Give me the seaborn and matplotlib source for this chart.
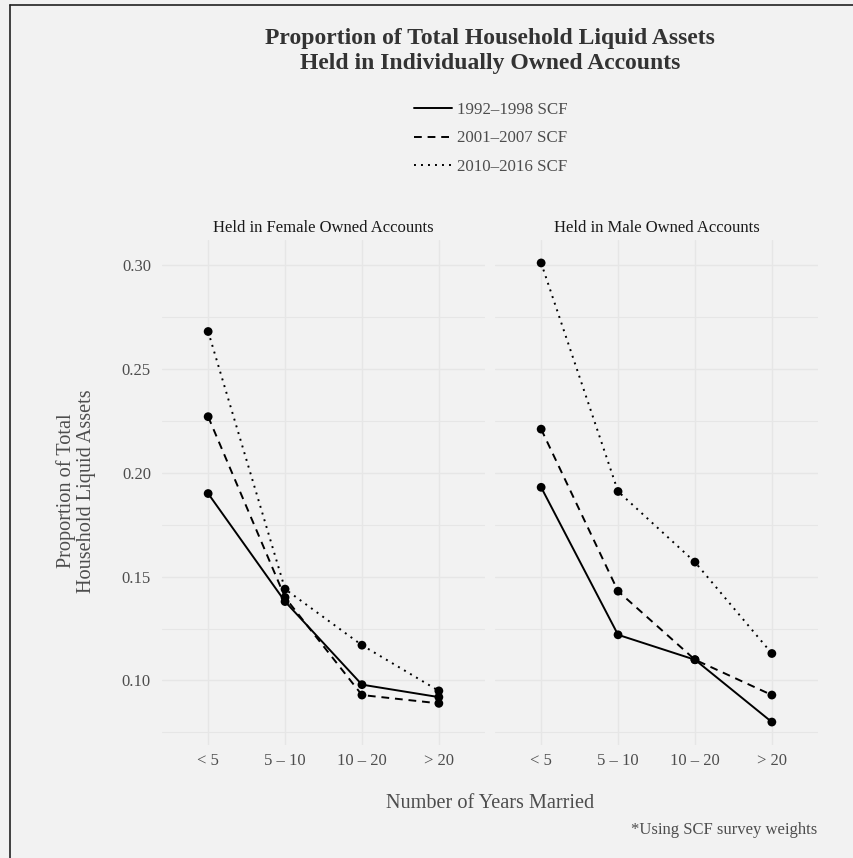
import numpy as np
import pandas as pd
import seaborn as sns
import matplotlib.pyplot as plt
from matplotlib.lines import Line2D
from matplotlib.ticker import MultipleLocator

# Values
years = ["< 5", "5 – 10", "10 – 20", "> 20"]
periods = ["1992–1998 SCF", "2001–2007 SCF", "2010–2016 SCF"]
panels = ["Held in Female Owned Accounts", "Held in Male Owned Accounts"]

female_1992 = [0.190, 0.138, 0.098, 0.092]
female_2001 = [0.227, 0.140, 0.093, 0.089]
female_2010 = [0.268, 0.144, 0.117, 0.095]
male_1992 = [0.193, 0.122, 0.110, 0.080]
male_2001 = [0.221, 0.143, 0.110, 0.093]
male_2010 = [0.301, 0.191, 0.157, 0.113]

series = {
    (panels[0], periods[0]): female_1992,
    (panels[0], periods[1]): female_2001,
    (panels[0], periods[2]): female_2010,
    (panels[1], periods[0]): male_1992,
    (panels[1], periods[1]): male_2001,
    (panels[1], periods[2]): male_2010,
}

rows = []
for (panel, period), vals in series.items():
    for i, v in enumerate(vals):
        rows.append({"panel": panel, "period": period, "pos": i, "share": v})
df = pd.DataFrame(rows)

sns.set_theme(style="white")
plt.rcParams["font.family"] = ["Liberation Serif", "DejaVu Serif"]

bg = "#f2f2f2"
grid_col = "#e6e6e6"
dash_map = {periods[0]: "", periods[1]: (4, 3), periods[2]: (1, 2.6)}

fig = plt.figure(figsize=(8.54, 8.58), dpi=100, facecolor=bg)

lo, hi = df["share"].min(), df["share"].max()
pad = (hi - lo) * 0.05

lefts = [162 / 854, 495 / 854]
for k, panel in enumerate(panels):
    ax = fig.add_axes([lefts[k], 1 - 745 / 858, 323 / 854, 505 / 858])
    ax.set_facecolor(bg)
    sub = df[df["panel"] == panel]
    sns.lineplot(data=sub, x="pos", y="share", hue="period", style="period",
                 palette=["black"] * 3, dashes=dash_map, markers=False,
                 linewidth=1.4, legend=False, ax=ax)
    sns.scatterplot(data=sub, x="pos", y="share", color="black", s=40,
                    edgecolor="none", legend=False, ax=ax, zorder=3)
    ax.set_xlim(-0.6, len(years) - 0.4)
    ax.set_ylim(lo - pad, hi + pad)
    ax.set_xticks(range(len(years)))
    ax.set_xticklabels(years)
    ax.yaxis.set_major_locator(MultipleLocator(0.05))
    ax.yaxis.set_minor_locator(MultipleLocator(0.025))
    ax.grid(True, which="major", color=grid_col, linewidth=1.0)
    ax.grid(True, which="minor", axis="y", color=grid_col, linewidth=0.8)
    ax.set_axisbelow(True)
    for s in ax.spines.values():
        s.set_visible(False)
    ax.tick_params(axis="both", which="both", length=0, labelsize=12,
                   labelcolor="#4d4d4d", pad=6)
    ax.tick_params(axis="y", pad=8)
    ax.set_xlabel("")
    ax.set_ylabel("")
    ax.set_title(panel, fontsize=12, color="#1a1a1a", pad=6)
    if k == 1:
        ax.tick_params(axis="y", labelleft=False)
    else:
        ax.yaxis.set_major_formatter(plt.FuncFormatter(lambda v, p: f"{v:.2f}"))

fig.text(490 / 854, 1 - 51 / 858,
         "Proportion of Total Household Liquid Assets\nHeld in Individually Owned Accounts",
         ha="center", va="center", fontsize=17, fontweight="bold",
         color="#333333", linespacing=1.19)

handles = [Line2D([0], [0], color="black", linewidth=1.4, linestyle=ls)
           for ls in ["-", (0, (4, 3)), (0, (1, 2.6))]]
fig.legend(handles, periods, loc="upper center", bbox_to_anchor=(491 / 854, 1 - 87 / 858),
           frameon=False, fontsize=12.2, handlelength=2.25, handletextpad=0.3,
           labelspacing=0.72, labelcolor="#4d4d4d")

fig.text(76 / 854, 1 - 491 / 858, "Proportion of Total\nHousehold Liquid Assets",
         rotation=90, ha="center", va="center", fontsize=14.6, color="#4d4d4d",
         linespacing=1.12)
fig.text(490 / 854, 1 - 804 / 858, "Number of Years Married", ha="center",
         va="center", fontsize=14.6, color="#4d4d4d")
fig.text(817 / 854, 1 - 830 / 858, "*Using SCF survey weights", ha="right",
         va="center", fontsize=12, color="#4d4d4d")

# frame lines seen on the left and top edges
fig.add_artist(Line2D([10 / 854, 10 / 854], [0, 1 - 5 / 858], color="#222222",
                      linewidth=1.2, transform=fig.transFigure))
fig.add_artist(Line2D([10 / 854, 1], [1 - 5 / 858, 1 - 5 / 858], color="#222222",
                      linewidth=1.2, transform=fig.transFigure))

fig.savefig("out.png", dpi=100, facecolor=bg)
